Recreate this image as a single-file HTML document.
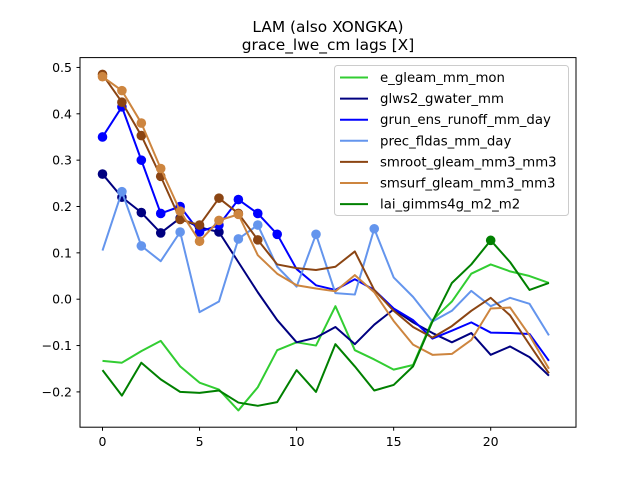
<!DOCTYPE html>
<html><head><meta charset="utf-8"><style>
body{margin:0;background:#fff}
svg{font-family:"DejaVu Sans","Liberation Sans",sans-serif}
</style></head><body>
<svg id="chart" width="640" height="480" viewBox="0 0 640 480">
<rect width="640" height="480" fill="#fff"/>
<text x="328" y="32" font-size="15.4" text-anchor="middle">LAM (also XONGKA)</text>
<text x="328" y="50" font-size="15.4" text-anchor="middle">grace_lwe_cm lags [X]</text>
<g id="plot"></g>
<rect x="80" y="57.6" width="496" height="369.6" fill="none" stroke="#000" stroke-width="1"/>
<g id="axes"></g>
<g id="legend"></g>
</svg>
<script>
const lags=[0,1,2,3,4,5,6,7,8,9,10,11,12,13,14,15,16,17,18,19,20,21,22,23];
const xTicks=[0,5,10,15,20];
const yTicks=[-0.2,-0.1,0.0,0.1,0.2,0.3,0.4,0.5];
const yTickLabels=["−0.2","−0.1","0.0","0.1","0.2","0.3","0.4","0.5"];
const seriesNames=["e_gleam_mm_mon","glws2_gwater_mm","grun_ens_runoff_mm_day","prec_fldas_mm_day","smroot_gleam_mm3_mm3","smsurf_gleam_mm3_mm3","lai_gimms4g_m2_m2"];
const eGleam=[-0.133,-0.137,-0.112,-0.09,-0.145,-0.18,-0.195,-0.24,-0.19,-0.11,-0.093,-0.1,-0.015,-0.11,-0.13,-0.152,-0.142,-0.045,-0.005,0.055,0.075,0.06,0.05,0.035];
const glws2=[0.27,0.22,0.187,0.143,0.175,0.155,0.145,0.08,0.015,-0.045,-0.093,-0.083,-0.06,-0.097,-0.055,-0.022,-0.05,-0.073,-0.093,-0.073,-0.12,-0.102,-0.125,-0.165];
const grun=[0.35,0.415,0.3,0.185,0.2,0.145,0.16,0.215,0.185,0.14,0.065,0.03,0.02,0.043,0.02,-0.02,-0.045,-0.085,-0.068,-0.05,-0.072,-0.073,-0.075,-0.133];
const prec=[0.105,0.232,0.115,0.082,0.145,-0.028,-0.005,0.13,0.16,0.07,0.027,0.14,0.013,0.01,0.152,0.047,0.005,-0.048,-0.025,0.018,-0.015,0.003,-0.01,-0.078];
const smroot=[0.485,0.425,0.353,0.265,0.172,0.16,0.218,0.185,0.128,0.075,0.067,0.063,0.07,0.103,0.02,-0.025,-0.06,-0.083,-0.058,-0.025,0.003,-0.035,-0.098,-0.16];
const smsurf=[0.48,0.45,0.38,0.282,0.19,0.125,0.17,0.183,0.095,0.055,0.03,0.023,0.017,0.052,0.015,-0.047,-0.098,-0.12,-0.118,-0.088,-0.02,-0.018,-0.078,-0.15];
const lai=[-0.153,-0.208,-0.137,-0.173,-0.2,-0.202,-0.197,-0.223,-0.23,-0.222,-0.153,-0.2,-0.097,-0.145,-0.197,-0.185,-0.145,-0.048,0.035,0.075,0.127,0.08,0.02,0.035];
const eGleamMarks=[];
const glws2Marks=[0,1,2,3,4,5,6];
const grunMarks=[0,1,2,3,4,5,6,7,8,9];
const precMarks=[1,2,4,7,8,11,14];
const smrootMarks=[0,1,2,3,4,5,6,7,8];
const smsurfMarks=[0,1,2,3,4,5,6,7];
const laiMarks=[20];

const NS="http://www.w3.org/2000/svg";
const X=v=>102.5+v*19.41;
const Y=v=>299.2-v*463.5;
function mk(t,a,p){const e=document.createElementNS(NS,t);for(const k in a)e.setAttribute(k,a[k]);p.appendChild(e);return e;}
const plot=document.getElementById('plot'),axes=document.getElementById('axes'),leg=document.getElementById('legend');
const all=[[eGleam,eGleamMarks,"#32cd32"],[glws2,glws2Marks,"#000080"],[grun,grunMarks,"#0000ff"],[prec,precMarks,"#6495ed"],[smroot,smrootMarks,"#8b4513"],[smsurf,smsurfMarks,"#cd853f"],[lai,laiMarks,"#008000"]];
all.forEach((s,i)=>{
 const g=mk('g',{},plot);
 
 
 const p=mk('polyline',{points:s[0].map((v,j)=>X(lags[j])+','+Y(v)).join(' '),fill:'none',stroke:s[2],'stroke-width':2,'stroke-linejoin':'round'},g);
 
 
 s[1].forEach(j=>{
  const c=mk('circle',{cx:X(lags[j]),cy:Y(s[0][j]),r:4.8,fill:s[2]},g);
  
  
 });
});
xTicks.forEach(t=>{
 const l=mk('line',{x1:X(t),x2:X(t),y1:427.2,y2:430.7,stroke:'#000'},axes);
 
 
 const tx=mk('text',{x:X(t),y:446,'font-size':12.5,'text-anchor':'middle'},axes);tx.textContent=t;
 
 
});
yTicks.forEach((t,i)=>{
 const l=mk('line',{x1:76.5,x2:80,y1:Y(t),y2:Y(t),stroke:'#000'},axes);
 
 
 const tx=mk('text',{x:72,y:Y(t)+4.5,'font-size':12.5,'text-anchor':'end'},axes);tx.textContent=yTickLabels[i];
 
 
});
const box=mk('rect',{x:334.5,y:65.5,width:234,height:150,rx:3,fill:'#fff','fill-opacity':0.8,stroke:'#ccc'},leg);


all.forEach((s,i)=>{
 const y=77.5+i*21.1;
 const g=mk('g',{},leg);
 
 
 mk('line',{x1:340,x2:368,y1:y,y2:y,stroke:s[2],'stroke-width':2},g);
 const t=mk('text',{x:380,y:y+4.5,'font-size':13.3},g);t.textContent=seriesNames[i];
});
</script>
</body></html>
